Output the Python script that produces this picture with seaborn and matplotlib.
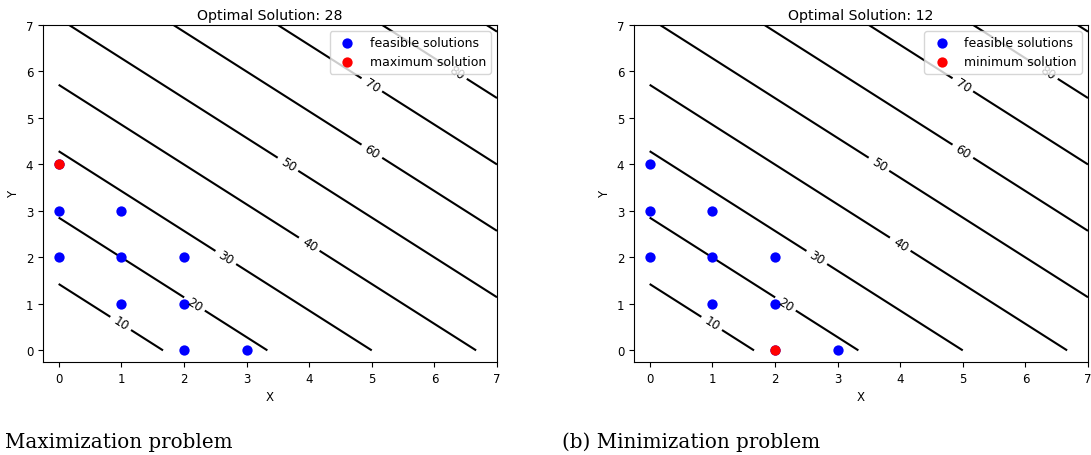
import numpy as np
import pandas as pd
import matplotlib
matplotlib.use("Agg")
import matplotlib.pyplot as plt
import seaborn as sns

# Objective: z = 6x + 7y
coef_x = 6
coef_y = 7
contour_levels = [10, 20, 30, 40, 50, 60, 70, 80, 90]
labeled_levels = [10, 20, 30, 40, 50, 60, 70, 80]

# Integer feasible points
feasible_x = [0, 0, 0, 1, 1, 1, 2, 2, 2, 3]
feasible_y = [2, 3, 4, 1, 2, 3, 0, 1, 2, 0]

max_point = (0, 4)
min_point = (2, 0)

captions = ["Maximization problem", "(b) Minimization problem"]
opt_labels = ["maximum solution", "minimum solution"]

# Where the contour labels sit along each line
label_spots = [(1.0, 0.6), (2.17, 1.0), (2.67, 2.0), (4.0, 2.28),
               (3.66, 4.0), (5.0, 4.28), (5.0, 5.71), (6.36, 6.0)]

feasible = pd.DataFrame({"x": feasible_x, "y": feasible_y})

gx = np.linspace(0, 7, 200)
gy = np.linspace(0, 7, 200)
GX, GY = np.meshgrid(gx, gy)
Z = coef_x * GX + coef_y * GY

fig = plt.figure(figsize=(10.91, 4.56), dpi=100)
W, H = 1091, 456
ax_boxes = [(43, 26, 497, 363), (634, 26, 1088, 363)]
caption_x = [5, 562]

for i, (opt, lab) in enumerate(zip([max_point, min_point], opt_labels)):
    l, t, r, b = ax_boxes[i]
    ax = fig.add_axes([l / W, 1 - b / H, (r - l) / W, (b - t) / H])
    cs = ax.contour(GX, GY, Z, levels=contour_levels, colors="black", linewidths=1.5)
    ax.clabel(cs, levels=labeled_levels, inline=True, fontsize=8.7, manual=label_spots)
    sns.scatterplot(data=feasible, x="x", y="y", color="blue", s=55, linewidth=0,
                    label="feasible solutions", ax=ax, zorder=3)
    opt_df = pd.DataFrame({"x": [opt[0]], "y": [opt[1]]})
    sns.scatterplot(data=opt_df, x="x", y="y", color="red", s=55, linewidth=0,
                    label=lab, ax=ax, zorder=4)
    value = coef_x * opt[0] + coef_y * opt[1]
    ax.set_title(f"Optimal Solution: {value}", fontsize=10.2, pad=4)
    ax.set_xlim(-0.25, 7)
    ax.set_ylim(-0.25, 7)
    ax.set_xticks(range(8))
    ax.set_yticks(range(8))
    ax.tick_params(labelsize=8.5)
    ax.set_xlabel("X", fontsize=8.5)
    ax.set_ylabel("Y", fontsize=8.5)
    ax.legend(loc="upper right", fontsize=9)
    fig.text(caption_x[i] / W, 1 - 448 / H, captions[i], family="DejaVu Serif",
             fontsize=14.3, va="baseline", ha="left")

fig.savefig("out.png", dpi=100)
